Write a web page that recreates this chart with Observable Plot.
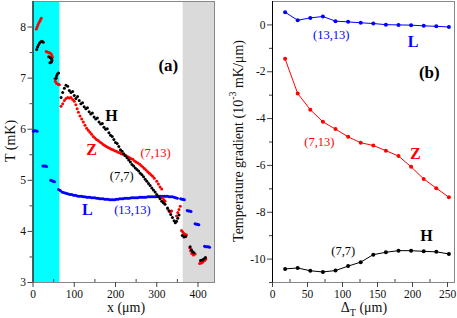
<!DOCTYPE html>
<html><head><meta charset="utf-8">
<script src="https://cdn.jsdelivr.net/npm/d3@7"></script>
<script src="https://cdn.jsdelivr.net/npm/@observablehq/plot@0.6"></script>
<style>
body{margin:0;background:#fff}
#wrap{position:relative;width:457px;height:318px;overflow:hidden}
.p{position:absolute;top:0}
svg{overflow:visible}
svg text{font-family:'Liberation Serif','Times New Roman',serif !important}
</style>
</head><body><div id="wrap"><div class="p" id="pa" style="left:0"></div><div class="p" id="pb" style="left:228px"></div></div>
<script>
// ---------- Panel (a) data: [x (µm), T (mK)] ----------
const H_a = [
 [9,7.56],[11,7.61],[13,7.65],[16,7.69],[19,7.71],[22,7.72],[25,7.70],
 [38,7.42],[42,7.40],[45,7.37],[46,7.34],[44,7.31],[41,7.30],
 [56,7.00],[57,7.04],[59,7.08],[62,7.10],
 [68,6.62],[72,6.72],[76,6.80],[80,6.86],[84,6.84],[88,6.76],[92,6.72],[96,6.74],[100,6.66],
 [104,6.60],[108,6.64],[112,6.56],[116,6.50],[120,6.52],[124,6.44],[128,6.40],[132,6.42],
 [136,6.34],[140,6.30],[144,6.32],[148,6.24],[152,6.20],[156,6.22],[160,6.14],[164,6.10],
 [168,6.11],[172,6.04],[176,6.00],[180,6.01],[184,5.93],[188,5.88],[192,5.86],[196,5.80],
 [200,5.74],[204,5.72],[208,5.66],[212,5.60],[216,5.57],[220,5.52],[224,5.48],[228,5.44],
 [232,5.40],[236,5.36],[240,5.31],[244,5.28],[248,5.24],[252,5.21],[256,5.18],[260,5.14],
 [264,5.11],[268,5.07],[272,5.02],[276,4.98],[280,4.94],[284,4.90],[288,4.85],[292,4.81],
 [296,4.77],[300,4.72],[304,4.68],[308,4.64],[312,4.59],[316,4.56],[320,4.53],
 [326,4.46],[330,4.40],[334,4.33],[338,4.27],[342,4.21],[345,4.17],[348,4.20],[351,4.26],[354,4.32],
 [362,3.92],[366,3.89],[370,3.90],
 [381,3.70],[384,3.64],[387,3.60],[390,3.58],
 [406,3.43],[410,3.44],[414,3.46],[418,3.49]
];
const Z_a = [
 [8,7.96],[10,8.00],[12,8.04],[14,8.08],[16,8.11],[18,8.14],[20,8.17],
 [32,7.52],[35,7.51],[38,7.50],[41,7.49],[44,7.47],[46,7.44],[47,7.41],
 [53,6.99],[54,6.94],[57,6.90],[61,6.88],[64,6.87],
 [68,6.45],[72,6.50],[76,6.56],[80,6.60],[84,6.62],[88,6.61],[92,6.62],[96,6.58],[100,6.55],
 [104,6.48],[107,6.40],[110,6.33],[114,6.26],[118,6.20],[122,6.14],[126,6.08],[130,6.02],
 [134,5.98],[138,5.94],[142,5.90],[146,5.86],[150,5.83],[154,5.80],[158,5.78],[162,5.75],
 [166,5.73],[170,5.70],[174,5.68],[178,5.66],[182,5.64],[186,5.63],[190,5.61],[194,5.60],
 [198,5.58],[202,5.57],[206,5.55],[210,5.54],[214,5.52],[218,5.51],[222,5.49],[226,5.48],
 [230,5.46],[234,5.44],[238,5.42],[242,5.41],[246,5.38],[250,5.36],[254,5.34],[258,5.32],
 [262,5.29],[266,5.26],[270,5.23],[274,5.20],[278,5.17],[282,5.14],[286,5.11],[290,5.08],
 [294,5.04],[300,4.98],[304,4.93],[308,4.87],[312,4.83],
 [314,4.66],[317,4.62],[320,4.59],
 [327,4.44],[330,4.40],[333,4.38],[336,4.40],
 [348,4.30],[351,4.37],[354,4.43],[357,4.49],
 [360,4.02],[363,3.99],[366,3.96],[369,3.94],[372,3.93],
 [380,3.68],[382,3.62],[385,3.57],[389,3.54],[393,3.56],
 [404,3.37],[408,3.38],[412,3.40],[416,3.43],[419,3.46]
];
const L_a = [
 [1,5.96],[4,5.97],[7,5.97],[10,5.96],
 [24,5.28],[27,5.28],[30,5.28],[33,5.27],
 [43,5.00],[46,4.99],[49,4.98],[52,4.97],
 [62,4.82],[66,4.80],[70,4.77],[74,4.76],[78,4.75],[82,4.74],[86,4.73],[90,4.72],[94,4.72],
 [98,4.71],[102,4.71],[106,4.70],[110,4.69],[114,4.69],[118,4.69],[122,4.68],[126,4.68],
 [130,4.67],[134,4.67],[138,4.67],[142,4.66],[146,4.66],[150,4.66],[154,4.65],[158,4.65],
 [162,4.64],[166,4.64],[170,4.64],[174,4.63],[178,4.63],[182,4.63],[186,4.62],[190,4.62],
 [194,4.62],[198,4.62],[202,4.63],[206,4.63],[210,4.64],[214,4.64],[218,4.64],[222,4.65],
 [226,4.65],[230,4.65],[234,4.65],[238,4.66],[242,4.66],[246,4.66],[250,4.66],[254,4.66],
 [258,4.67],[262,4.67],[266,4.67],[270,4.67],[274,4.67],[278,4.68],[282,4.68],[286,4.68],
 [290,4.68],[294,4.68],[298,4.68],[302,4.69],[306,4.69],[310,4.69],[314,4.69],[318,4.69],
 [322,4.69],[326,4.69],[330,4.68],[334,4.68],[338,4.68],[342,4.67],[346,4.66],[350,4.65],
 [358,4.64],[361,4.63],[364,4.63],[367,4.62],
 [374,4.41],[377,4.40],[380,4.40],[383,4.39],
 [393,4.15],[396,4.14],[399,4.14],[402,4.13],
 [416,3.71],[419,3.70],[422,3.70],[425,3.70],[428,3.69]
];
const cyanBand = [0, 65];
const grayBand = [364, 440];
const xTicksA = [0, 100, 200, 300, 400];
const xMinorA = [50, 150, 250, 350];
const yTicksA = [3, 4, 5, 6, 7, 8];
const yMinorA = [3.5, 4.5, 5.5, 6.5, 7.5];
const labelsA = [
 {x: 328, y: 7.25, t: "(a)", c: "black", bold: true, s: 17},
 {x: 190, y: 6.27, t: "H", c: "black", bold: true, s: 16},
 {x: 142, y: 5.60, t: "Z", c: "red", bold: true, s: 16},
 {x: 297, y: 5.54, t: "(7,13)", c: "red", bold: false, s: 12.5},
 {x: 215, y: 5.09, t: "(7,7)", c: "black", bold: false, s: 12.5},
 {x: 132, y: 4.43, t: "L", c: "blue", bold: true, s: 16},
 {x: 241, y: 4.41, t: "(13,13)", c: "blue", bold: false, s: 12.5}
];

// ---------- Panel (b) data ----------
const deltaT = [18, 36, 54, 72, 90, 108, 126, 144, 162, 180, 198, 216, 234, 252];
const gradH = [-10.42, -10.38, -10.50, -10.55, -10.49, -10.30, -10.13, -9.81, -9.71, -9.64, -9.64, -9.67, -9.69, -9.78];
const gradZ = [-1.45, -2.93, -3.62, -4.14, -4.45, -4.78, -5.03, -5.15, -5.37, -5.60, -6.06, -6.58, -6.97, -7.36];
const gradL = [0.54, 0.20, 0.30, 0.36, 0.16, 0.13, 0.09, 0.06, 0.01, 0.00, -0.01, -0.04, -0.06, -0.09];
const xTicksB = [0, 50, 100, 150, 200, 250];
const xMinorB = [25, 75, 125, 175, 225];
const yTicksB = [-10, -8, -6, -4, -2, 0];
const yMinorB = [-11, -9, -7, -5, -3, -1];
const labelsB = [
 {x: 224, y: -2.03, t: "(b)", c: "black", bold: true, s: 17},
 {x: 201, y: -0.71, t: "L", c: "blue", bold: true, s: 16},
 {x: 84, y: -0.41, t: "(13,13)", c: "blue", bold: false, s: 12.5},
 {x: 67, y: -5.02, t: "(7,13)", c: "red", bold: false, s: 12.5},
 {x: 204, y: -5.49, t: "Z", c: "red", bold: true, s: 16},
 {x: 220, y: -9.03, t: "H", c: "black", bold: true, s: 16},
 {x: 101, y: -9.67, t: "(7,7)", c: "black", bold: false, s: 12.5}
];

const serif = "'Liberation Serif', 'Times New Roman', serif";
const RED = "#ff0000", BLUE = "#0000ff", BLK = "#000000";
const fmt = d => String(d);
const hasAxis = typeof Plot.axisX === "function";

function axisMarks(xt, xm, yt, ym) {
  if (!hasAxis) return [];
  const common = {fontSize: 11.5, fontFamily: serif, label: null, stroke: "#444", tickPadding: 2};
  return [
    Plot.axisX(xt, {...common, anchor: "bottom", tickSize: 5, tickFormat: fmt, fill: "#111"}),
    Plot.axisX(xm, {anchor: "bottom", tickSize: -3, tickFormat: () => "", label: null, stroke: "#444"}),
    Plot.axisY(yt, {...common, anchor: "left", tickSize: 5, tickFormat: fmt, fill: "#111"}),
    Plot.axisY(ym, {anchor: "left", tickSize: 3, tickFormat: () => "", label: null, stroke: "#444"})
  ];
}
function textMarks(labels) {
  return [false, true].map(b => Plot.text(labels.filter(d => d.bold === b), {
    x: "x", y: "y", text: "t", fill: "c", fontSize: d => d.s,
    fontWeight: b ? "bold" : "normal", fontFamily: serif
  }));
}
const rows = arr => arr.map(([x, y]) => ({x, y}));

const plotA = Plot.plot({
  width: 230, height: 318,
  marginLeft: 32.5, marginRight: 16, marginTop: 1, marginBottom: 36,
  style: {fontFamily: serif, fontSize: "11px", background: "transparent", overflow: "visible"},
  x: {domain: [0, 440], ticks: xTicksA, tickFormat: fmt, label: null},
  y: {domain: [3, 8.5], ticks: yTicksA, tickFormat: fmt, label: null},
  color: {type: "identity"},
  marks: [
    Plot.rect([cyanBand], {x1: d => d[0], x2: d => d[1], fill: "#00ffff"}),
    Plot.rect([grayBand], {x1: d => d[0], x2: d => d[1], fill: "#dadada"}),
    Plot.frame({stroke: "#888"}),
    Plot.ruleX([0], {stroke: "black"}),
    Plot.dot(rows(L_a), {x: "x", y: "y", r: 1.5, fill: BLUE, stroke: null}),
    Plot.dot(rows(Z_a), {x: "x", y: "y", r: 1.5, fill: RED, stroke: null}),
    Plot.dot(rows(H_a), {x: "x", y: "y", r: 1.5, fill: BLK, stroke: null}),
    ...textMarks(labelsA),
    ...axisMarks(xTicksA, xMinorA, yTicksA, yMinorA)
  ]
});

const rowsB = vals => deltaT.map((x, i) => ({x, y: vals[i]}));
const plotB = Plot.plot({
  width: 229, height: 318,
  marginLeft: 44, marginRight: 3, marginTop: 1, marginBottom: 36,
  style: {fontFamily: serif, fontSize: "11px", background: "transparent", overflow: "visible"},
  x: {domain: [0, 260], ticks: xTicksB, tickFormat: fmt, label: null},
  y: {domain: [-11, 1], ticks: yTicksB, tickFormat: fmt, label: null},
  color: {type: "identity"},
  marks: [
    Plot.frame({stroke: "#888"}),
    Plot.ruleX([0], {stroke: "black"}),
    Plot.line(rowsB(gradL), {x: "x", y: "y", stroke: BLUE, strokeWidth: 1}),
    Plot.dot(rowsB(gradL), {x: "x", y: "y", r: 2, fill: BLUE, stroke: null}),
    Plot.line(rowsB(gradZ), {x: "x", y: "y", stroke: RED, strokeWidth: 1}),
    Plot.dot(rowsB(gradZ), {x: "x", y: "y", r: 2, fill: RED, stroke: null}),
    Plot.line(rowsB(gradH), {x: "x", y: "y", stroke: BLK, strokeWidth: 1}),
    Plot.dot(rowsB(gradH), {x: "x", y: "y", r: 2, fill: BLK, stroke: null}),
    ...textMarks(labelsB),
    ...axisMarks(xTicksB, xMinorB, yTicksB, yMinorB)
  ]
});

document.getElementById("pa").appendChild(plotA);
document.getElementById("pb").appendChild(plotB);

// Axis titles
const sa = d3.select(plotA);
sa.append("text").attr("transform", "translate(12,141) rotate(-90)")
  .attr("text-anchor", "middle").attr("dominant-baseline", "middle")
  .attr("font-family", serif).attr("font-size", 14).attr("fill", "#111").text("T (mK)");
sa.append("text").attr("x", 126).attr("y", 312).attr("text-anchor", "middle")
  .attr("font-family", serif).attr("font-size", 14).attr("fill", "#111").text("x (\u03bcm)");

const sb = d3.select(plotB);
const yl = sb.append("text").attr("transform", "translate(12,141) rotate(-90)")
  .attr("text-anchor", "middle").attr("dominant-baseline", "middle")
  .attr("font-family", serif).attr("font-size", 14).attr("fill", "#111");
yl.append("tspan").text("Temperature gradient (10");
yl.append("tspan").attr("dy", -6).attr("font-size", 10).text("-3");
yl.append("tspan").attr("dy", 6).text(" mK/\u03bcm)");
const xl = sb.append("text").attr("x", 136).attr("y", 312).attr("text-anchor", "middle")
  .attr("font-family", serif).attr("font-size", 14).attr("fill", "#111");
xl.append("tspan").text("\u0394");
xl.append("tspan").attr("dy", 4).attr("font-size", 10).text("T");
xl.append("tspan").attr("dy", -4).text(" (\u03bcm)");
</script>
</body></html>
